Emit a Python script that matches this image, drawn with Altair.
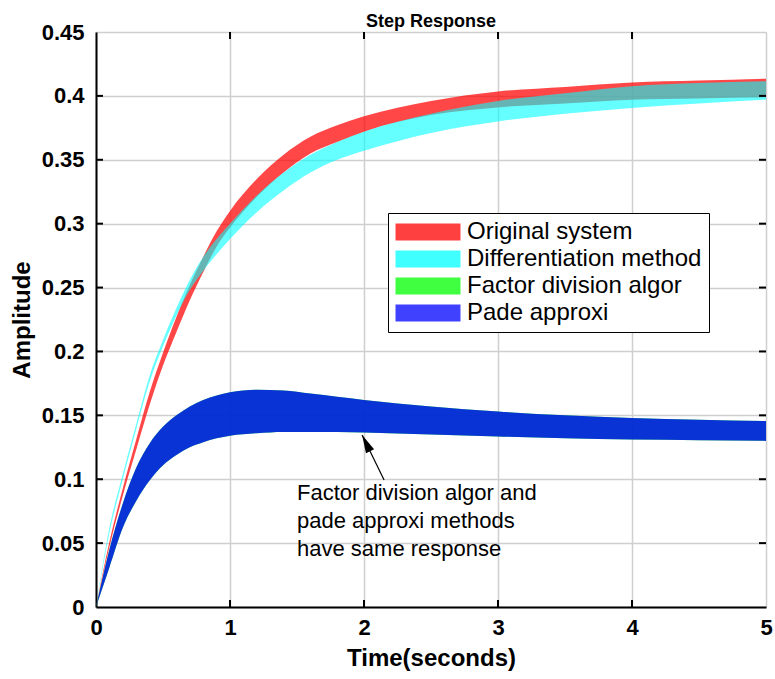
import altair as alt
import pandas as pd

# ---- data ----
t = [0, 0.1, 0.2, 0.3, 0.4, 0.5, 0.6, 0.7, 0.8, 0.9, 1.0, 1.2, 1.4, 1.6, 1.8, 2.0, 2.5, 3.0, 3.5, 4.0, 4.5, 5.0]

orig_hi = [0, 0.051, 0.093, 0.131, 0.168, 0.199, 0.227, 0.252, 0.274, 0.294, 0.310, 0.335, 0.354, 0.368, 0.377, 0.384, 0.396, 0.4035, 0.407, 0.4105, 0.412, 0.4135]
orig_lo = [0, 0.047, 0.087, 0.123, 0.158, 0.189, 0.215, 0.240, 0.262, 0.282, 0.297, 0.321, 0.340, 0.355, 0.364, 0.372, 0.385, 0.391, 0.394, 0.397, 0.398, 0.399]

diff_hi = [0, 0.062, 0.104, 0.143, 0.181, 0.209, 0.234, 0.256, 0.274, 0.288, 0.300, 0.322, 0.340, 0.354, 0.364, 0.372, 0.386, 0.396, 0.402, 0.4075, 0.410, 0.4115]
diff_lo = [0, 0.058, 0.100, 0.139, 0.176, 0.204, 0.228, 0.248, 0.263, 0.276, 0.288, 0.309, 0.326, 0.340, 0.350, 0.357, 0.371, 0.380, 0.386, 0.3906, 0.394, 0.397]

factor_hi = [0, 0.045, 0.081, 0.109, 0.128, 0.141, 0.150, 0.157, 0.162, 0.1655, 0.168, 0.170, 0.1695, 0.167, 0.1645, 0.162, 0.157, 0.153, 0.150, 0.148, 0.1465, 0.1455]
factor_lo = [0, 0.031, 0.062, 0.083, 0.099, 0.111, 0.119, 0.125, 0.129, 0.132, 0.134, 0.136, 0.137, 0.137, 0.137, 0.1365, 0.135, 0.1335, 0.132, 0.131, 0.1305, 0.130]

pade_hi = [0, 0.045, 0.081, 0.109, 0.128, 0.141, 0.150, 0.157, 0.162, 0.1655, 0.168, 0.170, 0.1695, 0.167, 0.1645, 0.162, 0.157, 0.153, 0.150, 0.148, 0.1465, 0.1455]
pade_lo = [0, 0.031, 0.062, 0.083, 0.099, 0.111, 0.119, 0.125, 0.129, 0.132, 0.134, 0.136, 0.137, 0.137, 0.137, 0.1365, 0.135, 0.1335, 0.132, 0.131, 0.1305, 0.130]

series_names = ["Original system", "Differentiation method", "Factor division algor", "Pade approxi"]
series_colors = ["#ff0000", "#00ffff", "#00ff00", "#0000ff"]

x_ticks = [0, 1, 2, 3, 4, 5]
y_ticks = [0, 0.05, 0.1, 0.15, 0.2, 0.25, 0.3, 0.35, 0.4, 0.45]

note_lines = ["Factor division algor and", "pade approxi methods", "have same response"]
note_pos = [1.50, 0.0837]
arrow_tail = [2.15, 0.0994]
arrow_tip = [1.986, 0.1346]

# ---- tables ----
rows = []
for name, lo, hi in [
    (series_names[0], orig_lo, orig_hi),
    (series_names[1], diff_lo, diff_hi),
    (series_names[2], factor_lo, factor_hi),
    (series_names[3], pade_lo, pade_hi),
]:
    for ti, l, h in zip(t, lo, hi):
        rows.append({"t": ti, "lo": l, "hi": h, "series": name})
df = pd.DataFrame(rows)

FONT = "Liberation Sans"
W, H = 670, 575

xscale = alt.Scale(domain=[0, 5], nice=False, zero=False)
yscale = alt.Scale(domain=[0, 0.45], nice=False)
color = alt.Color(
    "series:N",
    scale=alt.Scale(domain=series_names, range=series_colors),
    legend=alt.Legend(
        title=None,
        orient="none",
        legendX=292,
        legendY=181,
        symbolType="M-4,-1.04L4,-1.04L4,1.04L-4,1.04Z",
        symbolSize=264,
        symbolOffset=21,
        symbolOpacity=0.75,
        symbolStrokeWidth=0,
        labelFont=FONT,
        labelFontSize=24,
        labelColor="black",
        labelLimit=0,
        labelOffset=27,
        rowPadding=3,
        padding=7,
        strokeColor="black",
        fillColor="white",
    ),
)

base = alt.Chart(df)


def band(name, opacity):
    return base.transform_filter(alt.datum.series == name).mark_area(
        opacity=opacity, interpolate="monotone"
    ).encode(
        x=alt.X(
            "t:Q",
            scale=xscale,
            axis=alt.Axis(
                values=x_ticks,
                format="d",
                title="Time(seconds)",
                ticks=False,
                labelFlush=False,
                labelFont=FONT,
                labelFontSize=22,
                labelFontWeight="bold",
                labelColor="black",
                labelPadding=10,
                titleFont=FONT,
                titleFontSize=24,
                titleFontWeight="bold",
                titleColor="black",
                titlePadding=8,
                domainColor="black",
                domainWidth=2,
                gridColor="#cfcfcf",
                gridWidth=1.5,
            ),
        ),
        y=alt.Y(
            "lo:Q",
            scale=yscale,
            axis=alt.Axis(
                values=y_ticks,
                format="~g",
                title="Amplitude",
                ticks=False,
                labelFlush=False,
                labelFont=FONT,
                labelFontSize=22,
                labelFontWeight="bold",
                labelColor="black",
                labelPadding=12,
                titleFont=FONT,
                titleFontSize=24,
                titleFontWeight="bold",
                titleColor="black",
                titlePadding=7,
                domainColor="black",
                domainWidth=2,
                gridColor="#cfcfcf",
                gridWidth=1.5,
            ),
        ),
        y2="hi:Q",
        color=color,
    )


layers = [
    band(series_names[2], 0.8),
    band(series_names[3], 0.8),
    band(series_names[0], 0.72),
    band(series_names[1], 0.6),
]

# inward tick marks on all four sides
xt = pd.DataFrame({"v": x_ticks[1:-1]})
yt = pd.DataFrame({"v": y_ticks[1:-1]})
tick_bottom = alt.Chart(xt).mark_rule(color="black", strokeWidth=2).encode(
    x=alt.X("v:Q", scale=xscale), y=alt.value(H), y2=alt.value(H - 7))
tick_top = alt.Chart(xt).mark_rule(color="black", strokeWidth=2).encode(
    x=alt.X("v:Q", scale=xscale), y=alt.value(0), y2=alt.value(7))
tick_left = alt.Chart(yt).mark_rule(color="black", strokeWidth=2).encode(
    y=alt.Y("v:Q", scale=yscale), x=alt.value(0), x2=alt.value(7))
tick_right = alt.Chart(yt).mark_rule(color="black", strokeWidth=2).encode(
    y=alt.Y("v:Q", scale=yscale), x=alt.value(W - 7), x2=alt.value(W))

# annotation
arrow_df = pd.DataFrame({"x": [arrow_tail[0]], "y": [arrow_tail[1]],
                         "x2": [arrow_tip[0]], "y2": [arrow_tip[1]]})
arrow_line = alt.Chart(arrow_df).mark_rule(color="black", strokeWidth=1.2).encode(
    x=alt.X("x:Q", scale=xscale), y=alt.Y("y:Q", scale=yscale), x2="x2:Q", y2="y2:Q")
head_df = pd.DataFrame({"x": [arrow_tip[0]], "y": [arrow_tip[1]]})
arrow_head = alt.Chart(head_df).mark_point(
    shape="M0,0L-0.5,2L0.5,2Z", size=324, filled=True, color="black", opacity=1,
    angle=334,
).encode(x=alt.X("x:Q", scale=xscale), y=alt.Y("y:Q", scale=yscale))

note_df = pd.DataFrame({"x": [note_pos[0]], "y": [note_pos[1]], "txt": [note_lines]})
note = alt.Chart(note_df).mark_text(
    align="left", baseline="alphabetic", font=FONT, fontSize=22, lineHeight=28, color="black"
).encode(x=alt.X("x:Q", scale=xscale), y=alt.Y("y:Q", scale=yscale), text="txt")

chart = alt.layer(
    *layers, tick_bottom, tick_top, tick_left, tick_right, arrow_line, arrow_head, note
).properties(
    width=W,
    height=H,
    title=alt.TitleParams("Step Response", font=FONT, fontSize=18, fontWeight="bold",
                          color="black", anchor="middle", offset=-10, frame="group"),
    padding={"left": 96, "top": 32, "right": 9, "bottom": 72},
    autosize=alt.AutoSizeParams(type="none"),
).configure_view(
    stroke="black", strokeWidth=2
).configure(background="white")

chart.save("out.html", embed_options={"renderer": "svg", "actions": False})
